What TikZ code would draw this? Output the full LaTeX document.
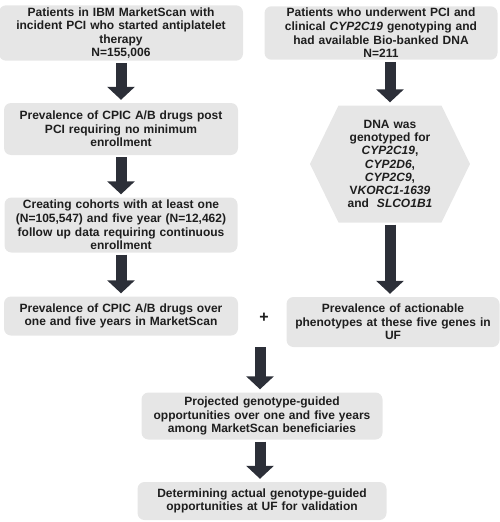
\documentclass[tikz,border=0pt]{standalone}
\usepackage{fontspec}
\setmainfont{Liberation Sans}
\usepackage{tikz}
\usetikzlibrary{arrows.meta,shapes.symbols}
\definecolor{boxgray}{HTML}{E6E6E6}
\definecolor{arrowgray}{HTML}{2C2F38}
\definecolor{textgray}{HTML}{1E1E1E}
\tikzset{
  boxnode/.style={fill=boxgray, rounded corners=7pt, align=center, inner sep=2pt, text=textgray, font=\bfseries\fontsize{12}{13.6}\selectfont},
  hexnode/.style={shape=signal, signal to=east and west, signal pointer angle=128, fill=boxgray, align=center, inner sep=1pt, text=textgray, font=\bfseries\fontsize{12}{13.3}\selectfont},
  bigarrow/.style={arrowgray, line width=11pt, -{Triangle[width=27pt,length=13pt]}, shorten <=2pt, shorten >=3pt}
}

\begin{document}
\begin{tikzpicture}[x=1pt,y=-1pt]
  \useasboundingbox (0,0) rectangle (500,522);
  % left column: MarketScan
  \node[boxnode, minimum width=244pt, minimum height=55pt, text width=238pt] (cohort) at (121,33) {Patients in IBM MarketScan with\\ incident PCI who started antiplatelet\\ therapy\\ N=155,006};
  \node[boxnode, minimum width=234pt, minimum height=52pt, text width=228pt] (prevpost) at (121,129) {Prevalence of CPIC A/B drugs post\\ PCI requiring no minimum\\ enrollment};
  \node[boxnode, minimum width=233pt, minimum height=55pt, text width=228pt] (followup) at (121,225) {Creating cohorts with at least one\\ (N=105,547) and five year (N=12,462)\\ follow up data requiring continuous\\ enrollment};
  \node[boxnode, minimum width=234pt, minimum height=39pt, text width=228pt] (prevms) at (121,316) {Prevalence of CPIC A/B drugs over\\ one and five years in MarketScan};
  % right column: UF
  \node[boxnode, minimum width=233pt, minimum height=53pt, text width=228pt] (ufdna) at (381,33) {Patients who underwent PCI and\\ clinical \textit{CYP2C19} genotyping and\\ had available Bio-banked DNA\\ N=211};
  \node[hexnode, minimum width=160pt, minimum height=117pt, text width=100pt] (geno) at (390,164) {DNA was\\ genotyped for\\ \textit{CYP2C19},\\ \textit{CYP2D6},\\ \textit{CYP2C9},\\ V\textit{KORC1-1639}\\ and \ \textit{SLCO1B1}};
  \node[boxnode, minimum width=213pt, minimum height=50pt, text width=208pt] (prevuf) at (393,322) {Prevalence of actionable\\ phenotypes at these five genes in\\ UF};
  \node[font=\bfseries\fontsize{16}{16}\selectfont, text=textgray] (plus) at (264,318) {+};
  % bottom
  \coordinate (join) at (260,347);
  \node[boxnode, minimum width=241pt, minimum height=47pt, text width=236pt] (project) at (262,416) {Projected genotype-guided\\ opportunities over one and five years\\ among MarketScan beneficiaries};
  \node[boxnode, minimum width=249pt, minimum height=38pt, text width=244pt] (validate) at (262,501) {Determining actual genotype-guided\\ opportunities at UF for validation};
  % arrows
  \draw[bigarrow] (cohort.south) -- (prevpost.north);
  \draw[bigarrow] (prevpost.south) -- (followup.north);
  \draw[bigarrow] (followup.south) -- (prevms.north);
  \draw[bigarrow] (ufdna.south -| geno.north) -- (geno.north);
  \draw[bigarrow] (geno.south) -- (geno.south |- prevuf.north);
  \draw[bigarrow, shorten <=0pt] (join) -- (join |- project.north);
  \draw[bigarrow] (project.south -| join) -- (join |- validate.north);
\end{tikzpicture}
\end{document}
